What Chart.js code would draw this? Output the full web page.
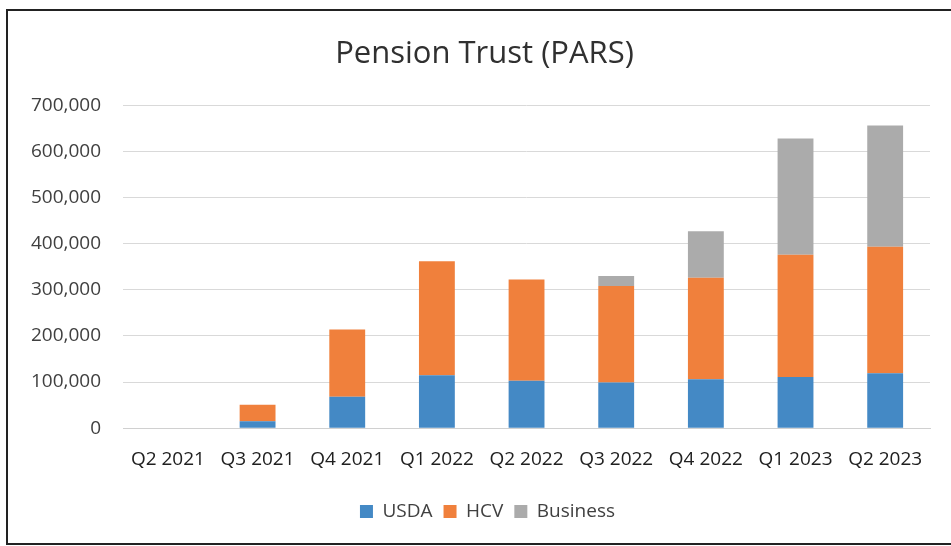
<!DOCTYPE html>
<html>
<head>
<meta charset="utf-8">
<script src="https://cdn.jsdelivr.net/npm/chart.js@4"></script>
<style>
  html, body { margin: 0; padding: 0; background: #fff; }
  #wrap { position: absolute; left: 0; top: 0; width: 951px; height: 546px; }
  #frame { position: absolute; left: 6px; top: 9px; width: 960px; height: 532px; border: 2px solid #222; pointer-events: none; }
</style>
</head>
<body>
<div id="wrap"><canvas id="myChart"></canvas></div>
<div id="frame"></div>
<script>
const quarters = ['Q2 2021', 'Q3 2021', 'Q4 2021', 'Q1 2022', 'Q2 2022', 'Q3 2022', 'Q4 2022', 'Q1 2023', 'Q2 2023'];
const usdaValues = [0, 15000, 68000, 115000, 103000, 99000, 106000, 111000, 119000];
const hcvValues = [0, 36000, 146000, 247000, 219000, 209000, 220000, 265000, 274000];
const businessValues = [0, 0, 0, 0, 0, 22000, 101000, 252000, 263000];
const yTicks = [0, 100000, 200000, 300000, 400000, 500000, 600000, 700000];

const fontFamily = "'Open Sans', 'Noto Sans', sans-serif";
const textColor = '#404040';

// the title and legend sit a little right of the canvas centre in the original
const nudgeBoxes = {
  id: 'nudgeBoxes',
  afterLayout(chart) {
    chart.titleBlock.left += 15;
    chart.titleBlock.right += 15;
    chart.legend.left += 18;
    chart.legend.right += 18;
  }
};

const ctx = document.getElementById('myChart').getContext('2d');
const myChart = new Chart(ctx, {
  type: 'bar',
  data: {
    labels: quarters,
    datasets: [
      { label: 'USDA', data: usdaValues, backgroundColor: '#4489c5' },
      { label: 'HCV', data: hcvValues, backgroundColor: '#f0803c' },
      { label: 'Business', data: businessValues, backgroundColor: '#ababab' }
    ]
  },
  options: {
    responsive: true,
    maintainAspectRatio: false,
    animation: false,
    datasets: { bar: { categoryPercentage: 1, barPercentage: 0.4 } },
    layout: { padding: { left: 9, right: 21, top: 0, bottom: 15 } },
    plugins: {
      title: {
        display: true,
        text: 'Pension Trust (PARS)',
        color: '#303030',
        font: { family: fontFamily, size: 31, weight: 'normal' },
        padding: { top: 36, bottom: 32 }
      },
      legend: {
        position: 'bottom',
        labels: {
          color: textColor,
          font: { family: fontFamily, size: 19 },
          boxWidth: 13,
          boxHeight: 13,
          padding: 11
        }
      },
      tooltip: { enabled: false }
    },
    scales: {
      x: {
        stacked: true,
        grid: { display: false, drawTicks: false },
        border: { color: '#d0d0d0' },
        ticks: { color: '#202020', font: { family: fontFamily, size: 19 }, padding: 20, maxRotation: 0 }
      },
      y: {
        stacked: true,
        min: 0,
        max: 700000,
        afterBuildTicks: (axis) => { axis.ticks = yTicks.map((v) => ({ value: v })); },
        grid: { color: '#d9d9d9', drawTicks: false },
        border: { display: false },
        ticks: {
          color: textColor,
          font: { family: fontFamily, size: 19 },
          padding: 22,
          callback: (v) => v.toLocaleString('en-US')
        }
      }
    }
  },
  plugins: [nudgeBoxes]
});
</script>
</body>
</html>
